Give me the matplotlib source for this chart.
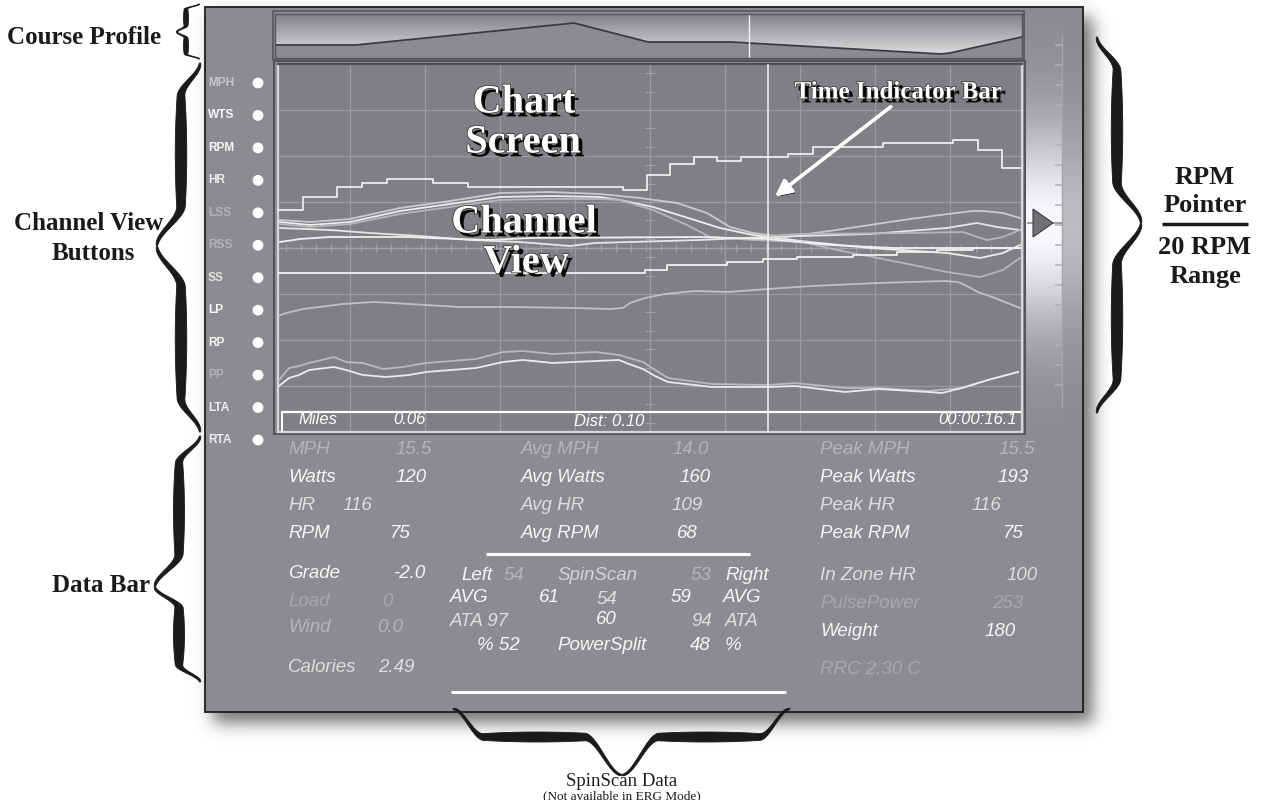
import numpy as np
import matplotlib
matplotlib.use("Agg")
import matplotlib.pyplot as plt
from matplotlib.patches import Rectangle, Polygon, Circle, FancyArrowPatch
import matplotlib.patheffects as pe

# ======================= DATA =======================
# Course profile: distance along course bar vs elevation
course_dist = [0, 81, 299, 373, 456, 666, 675, 747]
course_elev = [13, 13, 35, 16, 16, 4, 5, 21]
course_marker = 474

# Chart screen traces: sample position vs level
hr_x = [0, 25, 59, 84, 109, 155, 190, 345, 369, 392, 416, 439, 463, 510, 535, 605, 675, 700, 724, 742]
hr_y = [222, 235, 245, 249, 253, 249, 245, 242, 257, 268, 275, 271, 275, 278, 285, 289, 292, 282, 264, 264]

lss_x = [2, 32, 72, 122, 172, 222, 272, 322, 362, 399, 429, 452, 475, 490, 509, 572, 605, 632, 662, 695, 705, 725, 742]
lss_y = [212, 210, 213, 224, 231, 239, 240, 238, 234, 229, 219, 205, 199, 197, 195, 204, 209, 213, 217, 221, 221, 219, 214]

rss_x = [2, 32, 72, 122, 172, 222, 272, 322, 342, 375, 442, 475, 490, 532, 592, 669, 702, 725, 742]
rss_y = [210, 207, 210, 221, 228, 235, 236, 235, 232, 225, 204, 197, 195, 190, 184, 179, 174, 179, 187]

lta_x = [2, 32, 72, 122, 172, 222, 272, 322, 342, 375, 409, 432, 475, 525, 559, 625, 669, 702, 725, 742]
lta_y = [208, 205, 208, 218, 225, 232, 233, 233, 232, 222, 207, 195, 192, 190, 182, 169, 160, 155, 162, 174]

mph_x = [2, 52, 92, 142, 192, 242, 292, 317, 422, 490, 592, 669, 699, 719, 742]
mph_y = [204, 202, 199, 196, 192, 190, 186, 189, 192, 195, 198, 204, 209, 205, 202]

rpm_x = [2, 22, 52, 132, 152, 212, 252, 422, 490, 552, 615, 742]
rpm_y = [190, 193, 195, 195, 194, 192, 194, 195, 193, 187, 184, 184]

rta_x = [490, 522, 635, 685, 709, 725, 742]
rta_y = [196, 198, 199, 200, 192, 195, 202]

ss_x = [0, 367, 389, 449, 485, 519, 575, 619, 659, 695, 742]
ss_y = [159, 162, 167, 170, 173, 175, 177, 180, 182, 184, 184]

lp_x = [0, 8, 25, 41, 65, 95, 115, 148, 181, 231, 298, 331, 345, 352, 367, 387, 417, 450, 490, 534, 600, 667, 680, 687, 700, 717, 742]
lp_y = [116, 119, 123, 125, 128, 130, 129, 127, 125, 125, 124, 123, 124, 129, 134, 138, 141, 140, 143, 146, 149, 151, 150, 147, 140, 134, 124]

rp_x = [1, 11, 21, 31, 56, 68, 85, 105, 125, 148, 198, 225, 245, 275, 318, 341, 365, 377, 390, 434, 490, 517, 567, 600, 650, 684, 710, 740]
rp_y = [52, 64, 66, 69, 75, 70, 69, 63, 65, 69, 73, 80, 81, 78, 80, 77, 70, 62, 54, 48, 47, 49, 44, 44, 41, 44, 52, 60]

pp_x = [1, 11, 21, 31, 56, 68, 85, 108, 131, 148, 198, 225, 245, 275, 318, 341, 351, 365, 377, 390, 434, 490, 517, 567, 600, 650, 664, 684, 710, 740]
pp_y = [46, 54, 57, 62, 65, 62, 57, 55, 57, 60, 64, 70, 72, 69, 71, 72, 68, 63, 56, 50, 45, 45, 46, 40, 43, 40, 39, 44, 52, 60]

chart_marker = 490

channel_buttons = ["MPH", "WTS", "RPM", "HR", "LSS", "RSS", "SS", "LP", "RP", "PP", "LTA", "RTA"]

bar_col1_labels = ["MPH", "Watts", "HR", "RPM", "Grade", "Load", "Wind", "Calories"]
bar_col1_values = ["15.5", "120", "116", "75", "-2.0", "0", "0.0", "2.49"]
bar_col2_labels = ["Avg MPH", "Avg Watts", "Avg HR", "Avg RPM"]
bar_col2_values = ["14.0", "160", "109", "68"]
bar_col3_labels = ["Peak MPH", "Peak Watts", "Peak HR", "Peak RPM", "In Zone HR", "PulsePower", "Weight", "RRC 2.30 C"]
bar_col3_values = ["15.5", "193", "116", "75", "100", "253", "180", ""]
spin_row1 = ["Left", "54", "SpinScan", "53", "Right"]
spin_row2 = ["AVG", "61", "54", "59", "AVG"]
spin_row3 = ["ATA 97", "60", "94", "ATA"]
spin_row4 = ["% 52", "PowerSplit", "48", "%"]
chart_footer = ["Miles", "0.06", "Dist: 0.10", "00:00:16.1"]

# ======================= STYLE / LAYOUT =======================
W, H = 1262, 800
PANEL = '#8b8c90'
CHART_BG = '#7f8084'
WHITE = '#f6f6f6'
LIGHT = '#dedede'
DIM = '#b4b5b9'
DIMMER = '#a7a8ac'
SERIF = 'Liberation Serif'
SANS = 'Liberation Sans'

fig = plt.figure(figsize=(W / 100, H / 100), dpi=100)
fig.patch.set_facecolor('white')


def frac(x, y, w, h):
    return [x / W, 1 - (y + h) / H, w / W, h / H]


ax = fig.add_axes([0, 0, 1, 1])
ax.axis('off')

# ---- drop shadow of the panel ----
sx = np.arange(190, 1125) + 0.5
sy = np.arange(0, 760) + 0.5


def band(v, a, b, s):
    return 1 / (1 + np.exp(-(v - a) / s)) - 1 / (1 + np.exp(-(v - b) / s))


alpha = 0.55 * np.outer(band(sy, 17, 723, 5.0), band(sx, 213, 1093, 5.0))
shadow = np.zeros((len(sy), len(sx), 4))
shadow[..., 3] = alpha
ax.imshow(shadow, extent=(190, 1125, 760, 0), origin='upper', aspect='auto', zorder=0,
          interpolation='bilinear')

ax.add_patch(Rectangle((205, 7), 878, 705, fc=PANEL, ec='#1e1e1e', lw=1.3, zorder=1))

# ---- RPM pointer gradient bar ----
ys = np.linspace(8, 432, 320)
xs = np.linspace(1025, 1082, 60)
glow = np.exp(-((ys - 226) / 100.0) ** 2)
colfac = np.where(xs < 1063, 1.0, 0.45)
inten = 0.545 + 0.43 * glow[:, None] * colfac[None, :]
bar_img = np.dstack([inten, inten + 0.003, inten + 0.015])
ax.imshow(np.clip(bar_img, 0, 1), extent=(1025, 1082, 432, 8), origin='upper', aspect='auto',
          zorder=2, interpolation='bilinear')
ax.hlines(np.arange(45, 402, 20), 1055, 1062, color='#b0b1b5', lw=1.1, zorder=3)
ax.vlines(1062, 35, 408, color='#a4a5a9', lw=1.0, zorder=3)
ax.hlines(223, 1027, 1062, color='#8e8f93', lw=1.2, zorder=3)
ax.add_patch(Polygon([(1033, 209), (1033, 237), (1053, 223)], closed=True, fc='#707175',
                     ec='#3c3d41', lw=0.8, zorder=4))

# chart outer frame
ax.add_patch(Rectangle((274, 60.5), 751, 373, fc='none', ec='#55565a', lw=1.5, zorder=3))
ax.add_patch(Rectangle((273, 11), 751, 49, fc='none', ec='#55565a', lw=1.2, zorder=3))

ax.set_xlim(0, W)
ax.set_ylim(H, 0)

# ---- channel view buttons ----
btn_y = np.linspace(83, 440, len(channel_buttons))
btn_tone = ['#c4c5c9', WHITE, WHITE, '#ececec', '#b2b3b7', '#b2b3b7', '#e2e2e2', WHITE, WHITE,
            '#b2b3b7', '#ececec', '#ececec']
for name, yy, col in zip(channel_buttons, btn_y, btn_tone):
    ax.text(208, yy, name, color=col, fontsize=8.6, fontweight='bold', family=SANS,
            ha='left', va='center', zorder=5)
    ax.add_patch(Circle((258, yy), 5.4, fc='white', ec='none', zorder=5))

# ---- data bar ----
dfont = dict(family=SANS, style='italic', fontsize=13.5, va='center', ha='left', zorder=5)
c1_y = [449, 477, 506, 533, 573, 601, 628, 667]
c1_vx = [396, 396, 343, 389, 393, 382, 377, 378]
c1_tone = [DIM, WHITE, LIGHT, WHITE, WHITE, DIMMER, DIM, LIGHT]
for lab, val, yy, vx, col in zip(bar_col1_labels, bar_col1_values, c1_y, c1_vx, c1_tone):
    ax.text(288, yy, lab, color=col, **dfont)
    ax.text(vx, yy, val, color=col, **dfont)

c2_vx = [673, 680, 672, 677]
c2_tone = [DIM, WHITE, LIGHT, WHITE]
for lab, val, yy, vx, col in zip(bar_col2_labels, bar_col2_values, c1_y[:4], c2_vx, c2_tone):
    ax.text(521, yy, lab, color=col, **dfont)
    ax.text(vx, yy, val, color=col, **dfont)

c3_y = [449, 477, 506, 533, 575, 603, 631, 670]
c3_vx = [999, 998, 972, 1002, 1007, 992, 985, 0]
c3_tone = [DIM, WHITE, LIGHT, WHITE, LIGHT, DIMMER, WHITE, DIMMER]
for lab, val, yy, vx, col in zip(bar_col3_labels, bar_col3_values, c3_y, c3_vx, c3_tone):
    ax.text(820, yy, lab, color=col, **dfont)
    if val:
        ax.text(vx, yy, val, color=col, **dfont)

# spinscan block
for txt, xx, yy, col in zip(spin_row1, [461, 504, 557, 691, 725], [576] * 5,
                            [WHITE, DIM, '#d2d3d7', DIM, WHITE]):
    ax.text(xx, yy, txt, color=col, **dfont)
for txt, xx, yy, col in zip(spin_row2, [450, 539, 597, 671, 723], [597, 597, 600, 597, 597],
                            [WHITE, WHITE, LIGHT, WHITE, WHITE]):
    ax.text(xx, yy, txt, color=col, **dfont)
for txt, xx, yy, col in zip(spin_row3, [450, 596, 691, 725], [621, 619, 621, 621],
                            [LIGHT, WHITE, LIGHT, LIGHT]):
    ax.text(xx, yy, txt, color=col, **dfont)
for txt, xx, yy, col in zip(spin_row4, [477, 557, 690, 725], [645] * 4,
                            [WHITE, WHITE, WHITE, WHITE]):
    ax.text(xx, yy, txt, color=col, **dfont)
ax.hlines(554, 486, 750, color='white', lw=2.2, zorder=5)
ax.hlines(692, 451, 786, color='white', lw=2.2, zorder=5)


# ---- braces ----
def brace(a0, a1, tip_a, tip_p, d_body, d_end, wmax, orient):
    a = np.linspace(a0, a1, 900)
    u = np.where(a < tip_a, (tip_a - a) / (tip_a - a0), (a - tip_a) / (a1 - tip_a))

    def ss(t):
        t = np.clip(t, 0, 1)
        return t * t * (3 - 2 * t)

    off = d_body * ss(u / 0.22) + (d_end - d_body) * ss((u - 0.82) / 0.18)
    w = wmax * np.sin(np.pi * np.clip(u, 0, 1)) ** 0.7 + 1.0
    lo, hi = off - w / 2, off + w / 2
    if orient == 'left':
        p1 = np.c_[tip_p + lo, a]
        p2 = np.c_[tip_p + hi, a][::-1]
    elif orient == 'right':
        p1 = np.c_[tip_p - lo, a]
        p2 = np.c_[tip_p - hi, a][::-1]
    else:
        p1 = np.c_[a, tip_p - lo]
        p2 = np.c_[a, tip_p - hi][::-1]
    ax.add_patch(Polygon(np.vstack([p1, p2]), closed=True, fc='#1a1a1a', ec='#1a1a1a',
                         lw=0.6, zorder=6))


brace(4, 59, 32, 177, 9, 22, 4.0, 'left')
brace(63, 432, 246, 157, 24, 43, 10.5, 'left')
brace(436, 682, 587, 155, 24, 45, 10.0, 'left')
brace(37, 413, 223, 1141, 24, 44, 10.5, 'right')
brace(453, 790, 622, 775, 38, 66, 9.0, 'down')

# ---- annotation labels ----
afont = dict(family=SERIF, fontweight='bold', fontsize=18, color='#1a1a1a', zorder=6)
ax.text(7, 37, "Course Profile", ha='left', va='center', **afont)
ax.text(89, 224, "Channel View", ha='center', va='center', **afont)
ax.text(93, 254, "Buttons", ha='center', va='center', **afont)
ax.text(150, 586, "Data Bar", ha='right', va='center', **afont)
rfont = dict(afont, fontsize=19)
ax.text(1205, 177, "RPM", ha='center', va='center', **rfont)
ax.text(1205, 205, "Pointer", ha='center', va='center', **rfont)
ax.hlines(224, 1162, 1248, color='#1a1a1a', lw=2.5, zorder=6)
ax.text(1205, 248, "20 RPM", ha='center', va='center', **rfont)
ax.text(1205, 277, "Range", ha='center', va='center', **rfont)
ax.text(622, 782, "SpinScan Data", ha='center', va='center', family=SERIF, fontsize=13.5,
        color='#1a1a1a', zorder=6)
ax.text(622, 796, "(Not available in ERG Mode)", ha='center', va='center', family=SERIF,
        fontsize=9.5, color='#1a1a1a', zorder=6)

# ======================= COURSE PROFILE =======================
axp = fig.add_axes(frac(275, 14, 747, 44))
grad = np.linspace(0, 1, 120)[:, None, None]
top = np.array([0.50, 0.505, 0.52])
bot = np.array([0.90, 0.90, 0.91])
axp.imshow(top + (bot - top) * grad, extent=(0, 747, 0, 44), origin='upper', aspect='auto',
           interpolation='bilinear')
axp.fill_between(course_dist, course_elev, 0, color=PANEL, lw=0)
axp.plot(course_dist, course_elev, color='#3a3b3f', lw=1.3)
axp.axvline(course_marker, color='#f2f2f2', lw=1.0)
axp.set_xlim(0, 747)
axp.set_ylim(0, 44)
axp.set_xticks([])
axp.set_yticks([])
for s in axp.spines.values():
    s.set_color('#56575b')
    s.set_linewidth(1.0)

# ======================= CHART SCREEN =======================
axc = fig.add_axes(frac(278, 64, 744, 368))
axc.set_facecolor(CHART_BG)
axc.set_xlim(0, 744)
axc.set_ylim(0, 368)
axc.set_xticks(np.arange(72, 744, 75))
axc.set_yticks(np.arange(46, 368, 46))
axc.grid(True, color='#9a9b9f', lw=0.9)
axc.tick_params(length=0, labelbottom=False, labelleft=False)
axc.set_axisbelow(True)
axc.axhline(184, color='#a2a3a7', lw=1.0, zorder=1)
axc.vlines(np.arange(7.5, 744, 15), 180, 188, color='#a2a3a7', lw=0.8, zorder=1)
axc.hlines(np.arange(9.2, 368, 18.4), 367, 377, color='#a2a3a7', lw=0.8, zorder=1)

trace_style = [
    (hr_x, hr_y, '#ececec', 'steps-post'),
    (lss_x, lss_y, '#c9cace', 'default'),
    (rss_x, rss_y, '#ececec', 'default'),
    (lta_x, lta_y, '#b5b6ba', 'default'),
    (mph_x, mph_y, '#e6e6e6', 'default'),
    (rpm_x, rpm_y, '#f0f0f0', 'default'),
    (rta_x, rta_y, '#b5b6ba', 'default'),
    (ss_x, ss_y, '#f0f0f0', 'steps-post'),
    (lp_x, lp_y, '#c0c1c5', 'default'),
    (rp_x, rp_y, '#b9babe', 'default'),
    (pp_x, pp_y, '#eaeaea', 'default'),
]
for xx, yy, col, ds in trace_style:
    axc.plot(xx, yy, color=col, lw=1.3, drawstyle=ds, zorder=3)

axc.axvline(chart_marker, color='#f4f4f4', lw=1.1, zorder=4)

# footer row
axc.plot([4, 742], [20, 20], color='white', lw=1.6, zorder=4)
axc.plot([4, 4], [0, 20], color='white', lw=1.4, zorder=4)
ffont = dict(family=SANS, style='italic', fontsize=12, color='white', va='center', zorder=5)
axc.text(20, 12, chart_footer[0], ha='left', **ffont)
axc.text(115, 12, chart_footer[1], ha='left', **ffont)
axc.text(296, 11, chart_footer[2], ha='left', **ffont)
axc.text(739, 12, chart_footer[3], ha='right', **ffont)

# big shadowed labels
shadow_fx = [pe.withSimplePatchShadow(offset=(2.8, -2.8), shadow_rgbFace='black', alpha=0.95),
             pe.withStroke(linewidth=1.0, foreground='#2a2a2a')]
bfont = dict(family=SERIF, fontweight='bold', fontsize=29, color='white', ha='center',
             va='center', zorder=6, path_effects=shadow_fx)
axc.text(246, 329, "Chart", **bfont)
axc.text(245, 289, "Screen", **bfont)
axc.text(246, 209, "Channel", **bfont)
axc.text(248, 169, "View", **bfont)
axc.text(620, 340, "Time Indicator Bar", family=SERIF, fontweight='bold', fontsize=18,
         color='white', ha='center', va='center', zorder=6, path_effects=shadow_fx)
arr = FancyArrowPatch((615, 327), (495, 234), arrowstyle='-|>', mutation_scale=24, lw=2.4,
                      color='white', zorder=6,
                      path_effects=[pe.withSimplePatchShadow(offset=(1.5, -1.5),
                                                             shadow_rgbFace='black', alpha=0.9),
                                    pe.Normal()])
axc.add_patch(arr)

for side, s in axc.spines.items():
    s.set_linewidth(1.6)
    s.set_color('#d6d6d6' if side in ('left', 'bottom', 'right') else '#505155')

fig.savefig("out.png", dpi=100)
